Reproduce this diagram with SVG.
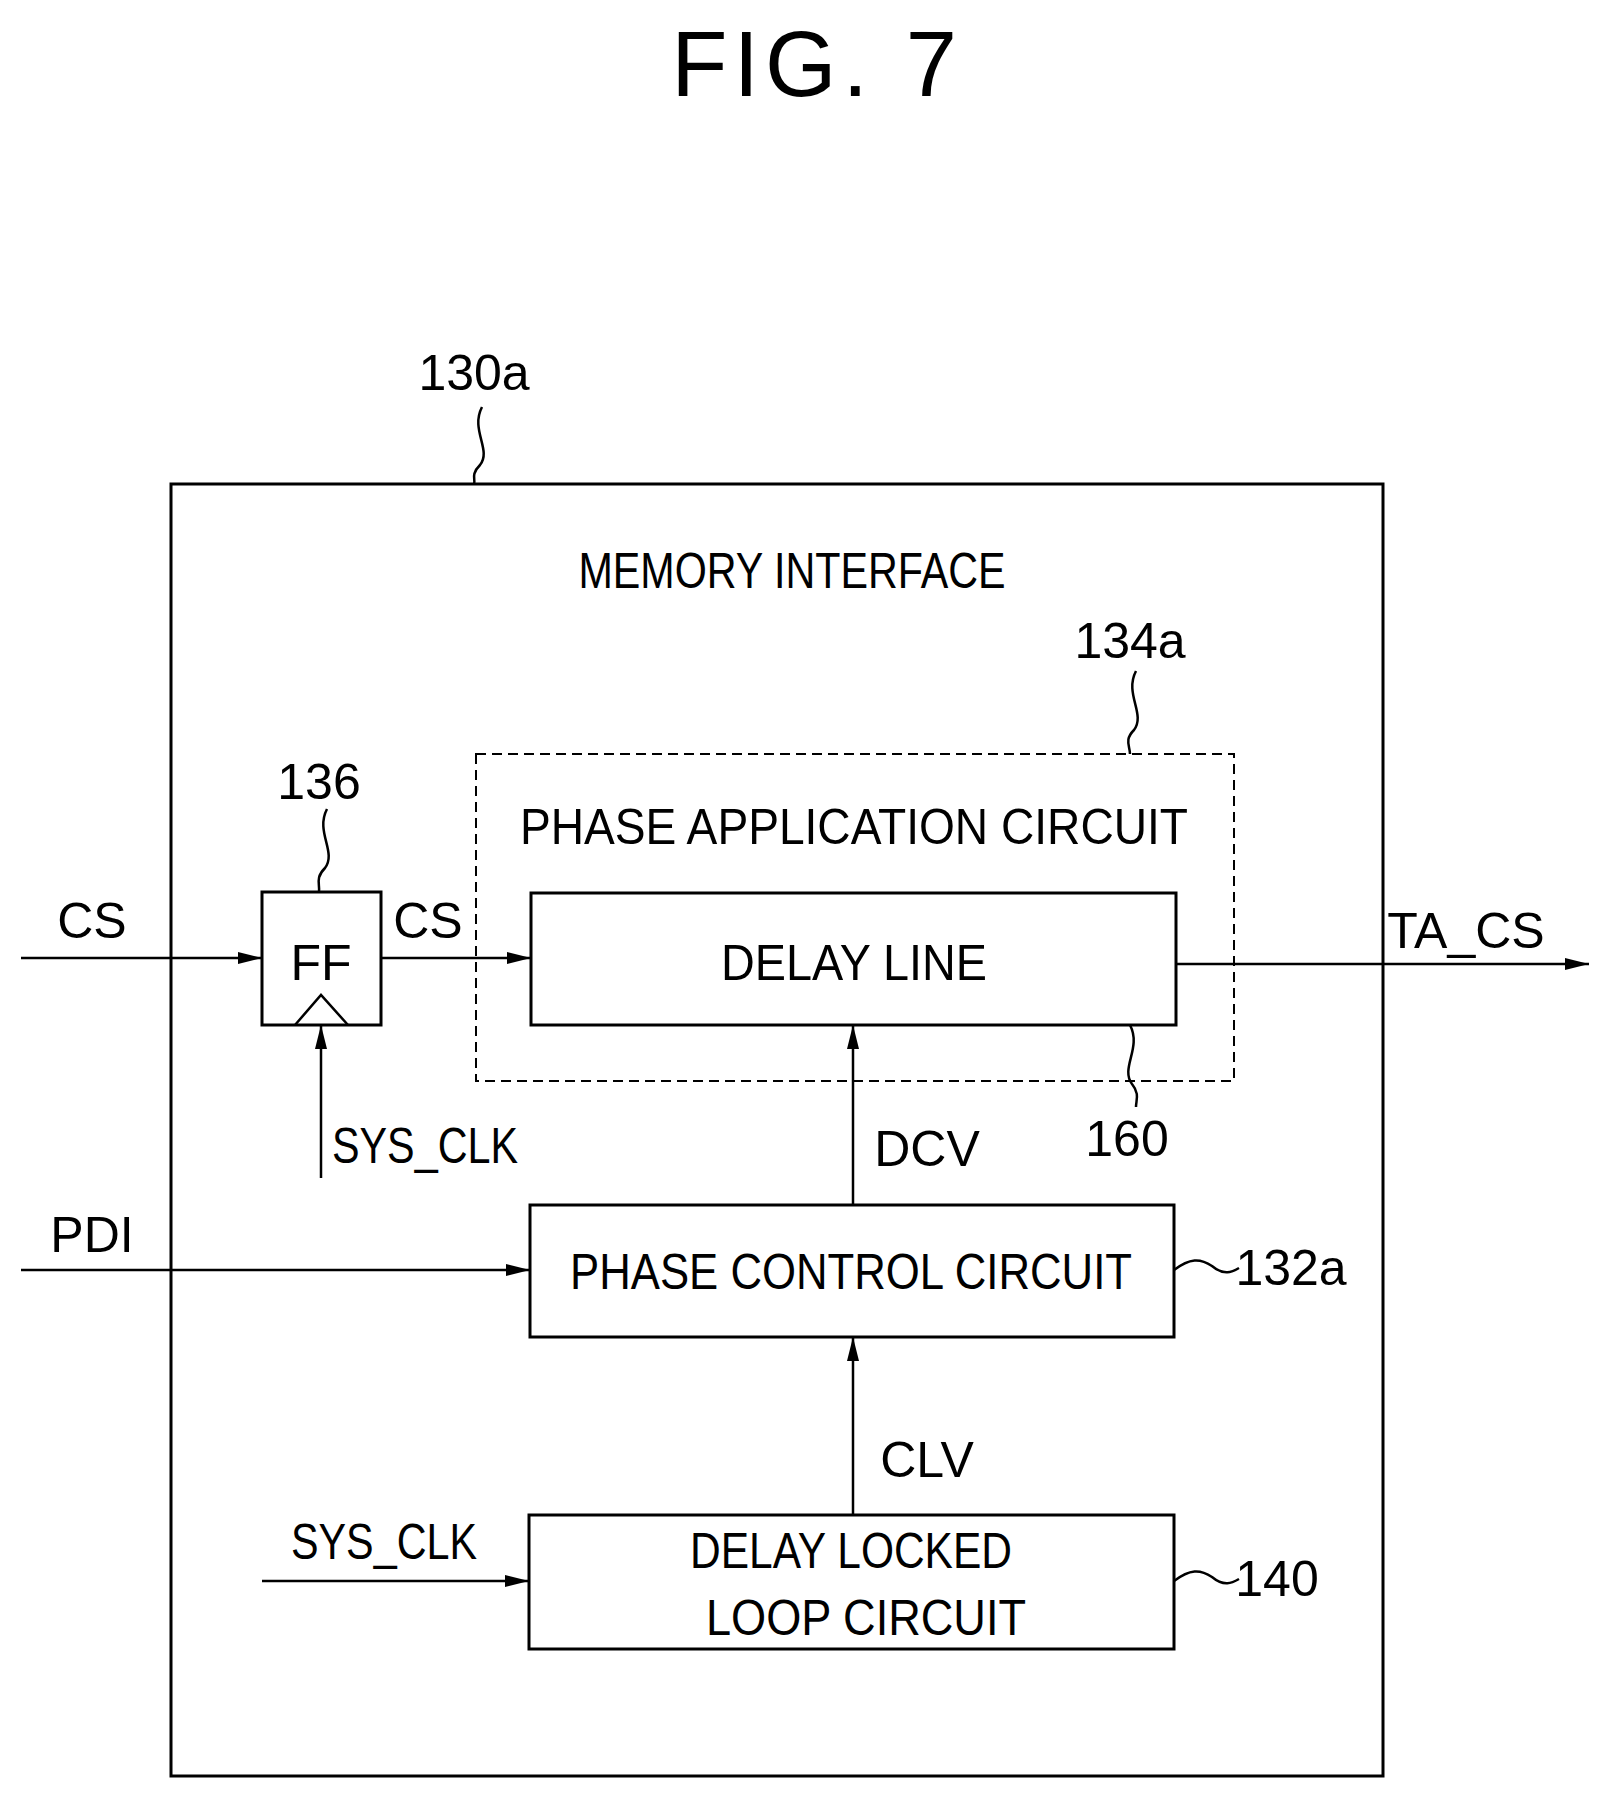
<svg xmlns="http://www.w3.org/2000/svg" width="1610" height="1800" viewBox="0 0 1610 1800">
<defs>
<style>
text{font-family:"Liberation Sans",Arial,sans-serif;font-size:50px;fill:#000;text-anchor:middle}
.b{fill:none;stroke:#000;stroke-width:3}
.l{fill:none;stroke:#000;stroke-width:2.5}
</style>
<marker id="a" viewBox="0 0 24 12" refX="24" refY="6" markerWidth="24" markerHeight="12" markerUnits="userSpaceOnUse" orient="auto"><path d="M0,0 L24,6 L0,12 Z" fill="#000"/></marker>
</defs>
<rect width="1610" height="1800" fill="#fff"/>
<text x="817" y="96" style="font-size:92px" letter-spacing="6">FIG. 7</text>
<g id="memory_interface">
<rect class="b" x="171" y="484" width="1212" height="1292"/>
<text x="792" y="588" textLength="427" lengthAdjust="spacingAndGlyphs">MEMORY  INTERFACE</text>
<text x="474" y="390" font-size="46">130a</text>
<path class="l" d="M482,407 C470,430 492,450 480,465 C470,475 476,480 474,484"/>
</g>
<g id="phase_application">
<rect x="476" y="754" width="758" height="327" fill="none" stroke="#000" stroke-width="2" stroke-dasharray="10,6"/>
<text x="854" y="844" textLength="668" lengthAdjust="spacingAndGlyphs">PHASE  APPLICATION  CIRCUIT</text>
<text x="1130" y="658" font-size="46">134a</text>
<path class="l" d="M1136,671 C1124,694 1146,714 1134,730 C1124,740 1130,746 1130,754"/>
</g>
<g id="delay_line">
<rect class="b" x="531" y="893" width="645" height="132"/>
<text x="854" y="980" textLength="266" lengthAdjust="spacingAndGlyphs">DELAY  LINE</text>
<text x="1127" y="1156" font-size="46">160</text>
<path class="l" d="M1130,1025 C1142,1048 1120,1068 1132,1084 C1140,1094 1136,1100 1136,1107"/>
</g>
<g id="ff">
<rect class="b" x="262" y="892" width="119" height="133"/>
<path class="l" d="M295,1025 L321,995 L348,1025"/>
<text x="321" y="980">FF</text>
<text x="319" y="799" font-size="46">136</text>
<path class="l" d="M327,809 C315,832 337,852 325,868 C315,878 320,884 319,892"/>
</g>
<g id="phase_control">
<rect class="b" x="530" y="1205" width="644" height="132"/>
<text x="851" y="1289" textLength="562" lengthAdjust="spacingAndGlyphs">PHASE  CONTROL  CIRCUIT</text>
<text x="1291" y="1285" font-size="46">132a</text>
<path class="l" d="M1174,1270 C1190,1258 1200,1258 1212,1266 C1224,1276 1232,1272 1239,1268"/>
</g>
<g id="dll">
<rect class="b" x="529" y="1515" width="645" height="134"/>
<text x="851" y="1568" textLength="322" lengthAdjust="spacingAndGlyphs">DELAY  LOCKED</text>
<text x="866" y="1635" textLength="320" lengthAdjust="spacingAndGlyphs">LOOP  CIRCUIT</text>
<text x="1277" y="1596" font-size="46">140</text>
<path class="l" d="M1174,1581 C1190,1569 1200,1569 1212,1577 C1224,1587 1232,1583 1239,1579"/>
</g>
<g id="connectors">
<line class="l" x1="21" y1="958" x2="262" y2="958" marker-end="url(#a)"/>
<text x="92" y="938" font-size="46">CS</text>
<line class="l" x1="381" y1="958" x2="531" y2="958" marker-end="url(#a)"/>
<text x="428" y="938" font-size="46">CS</text>
<line class="l" x1="1176" y1="964" x2="1589" y2="964" marker-end="url(#a)"/>
<text x="1466" y="948" font-size="46">TA_CS</text>
<line class="l" x1="321" y1="1178" x2="321" y2="1025" marker-end="url(#a)"/>
<text x="425" y="1163" font-size="46" textLength="186" lengthAdjust="spacingAndGlyphs">SYS_CLK</text>
<line class="l" x1="853" y1="1205" x2="853" y2="1025" marker-end="url(#a)"/>
<text x="927" y="1166" font-size="46">DCV</text>
<line class="l" x1="21" y1="1270" x2="530" y2="1270" marker-end="url(#a)"/>
<text x="92" y="1252" font-size="46">PDI</text>
<line class="l" x1="853" y1="1515" x2="853" y2="1337" marker-end="url(#a)"/>
<text x="927" y="1477" font-size="46">CLV</text>
<line class="l" x1="262" y1="1581" x2="529" y2="1581" marker-end="url(#a)"/>
<text x="384" y="1559" font-size="46" textLength="186" lengthAdjust="spacingAndGlyphs">SYS_CLK</text>
</g>
</svg>
